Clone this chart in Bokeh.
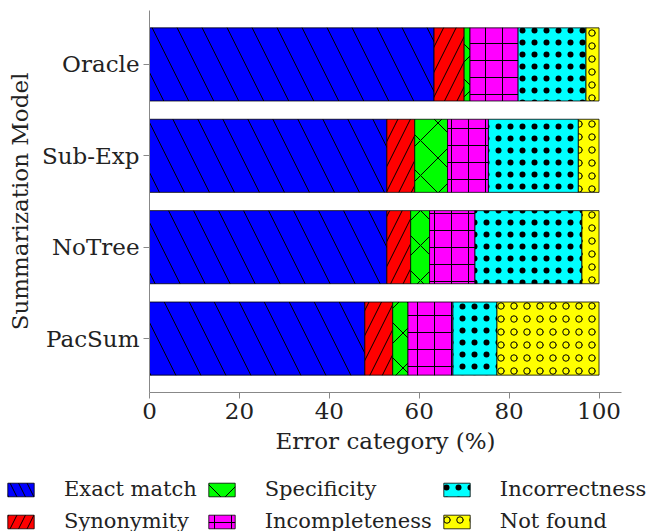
from bokeh.plotting import figure
from bokeh.layouts import column
from bokeh.models import ColumnDataSource, Range1d, FixedTicker, Legend, LegendItem
from bokeh.embed import file_html
from bokeh.resources import INLINE

models = ["Oracle", "Sub-Exp", "NoTree", "PacSum"]
categories = ["Exact match", "Synonymity", "Specificity", "Incompleteness", "Incorrectness", "Not found"]
exact_match = [63.3, 52.8, 52.8, 47.9]
synonymity = [6.7, 6.2, 5.3, 6.2]
specificity = [1.3, 7.3, 4.2, 3.4]
incompleteness = [10.7, 9.1, 10.1, 10.0]
incorrectness = [15.1, 20.0, 23.8, 9.8]
not_found = [2.9, 4.6, 3.8, 22.7]
x_ticks = [0, 20, 40, 60, 80, 100]

colors = ["#0000ff", "#ff0000", "#00ff00", "#ff00ff", "#00ffff", "#ffff00"]
hatches = ["\\", "/", "x", "+", ".", "o"]
scales = [50, 25, 35, 17, 12, 13]

FONT = "DejaVu Serif"

ypos = [len(models) - 1 - i for i in range(len(models))]
src = ColumnDataSource(dict(
    y=ypos,
    **{c: v for c, v in zip(categories, [exact_match, synonymity, specificity,
                                          incompleteness, incorrectness, not_found])}
))

p = figure(width=650, height=473, output_backend="svg", toolbar_location=None,
           x_range=Range1d(0, 105), y_range=Range1d(-0.59, 3.59),
           min_border_left=149, min_border_right=29, min_border_top=10,
           min_border_bottom=81)
p.outline_line_color = None
p.grid.visible = False
p.frame_align = False

renderers = p.hbar_stack(categories, y="y", height=0.8, source=src,
                         fill_color=colors, line_color="black", line_width=0.8,
                         hatch_pattern=hatches, hatch_scale=scales,
                         hatch_color="black", hatch_weight=1.0)

p.xaxis.ticker = FixedTicker(ticks=x_ticks)
p.yaxis.ticker = FixedTicker(ticks=ypos)
p.yaxis.major_label_overrides = {y: m for y, m in zip(ypos, models)}
p.xaxis.axis_label = "Error category (%)"
p.yaxis.axis_label = "Summarization Model"
for ax in (p.xaxis[0], p.yaxis[0]):
    ax.axis_label_text_font = FONT
    ax.axis_label_text_font_style = "normal"
    ax.axis_label_text_font_size = "23px"
    ax.axis_label_text_color = "#222222"
    ax.major_label_text_font = FONT
    ax.major_label_text_font_size = "23px"
    ax.major_label_text_color = "#222222"
    ax.axis_line_color = "#888888"
    ax.major_tick_line_color = "#888888"
    ax.major_tick_out = 6
    ax.major_tick_in = 0
    ax.minor_tick_line_color = None
    ax.major_label_standoff = 4
    ax.axis_label_standoff = 6

# legend figure: its swatch renderers sit outside the visible range, only the legend shows
lf = figure(width=650, height=58, output_backend="svg", toolbar_location=None,
            x_range=Range1d(0, 1), y_range=Range1d(0, 1),
            x_axis_location=None, y_axis_location=None,
            min_border_left=0, min_border_right=0, min_border_top=0, min_border_bottom=0)
lf.outline_line_color = None
lf.grid.visible = False
lf.frame_align = False
leg_src = ColumnDataSource(dict(y=[-10], left=[0], right=[1]))
leg_renderers = []
for c, col, hp, sc in zip(categories, colors, hatches, scales):
    r = lf.hbar(y="y", left="left", right="right", height=1, source=leg_src,
                fill_color=col, line_color="black", line_width=0.8,
                hatch_pattern=hp, hatch_scale=min(sc, 17) if hp in "\\/" else sc,
                hatch_color="black", hatch_weight=1.0)
    leg_renderers.append(r)

items = [LegendItem(label=c, renderers=[r]) for c, r in zip(categories, leg_renderers)]
legend = Legend(items=items, ncols=3, location="top_left",
                label_text_font=FONT, label_text_font_size="21px",
                label_text_color="#222222",
                glyph_width=33, glyph_height=17, label_standoff=27,
                spacing=8, padding=0, margin=4,
                border_line_alpha=0, background_fill_alpha=0)
lf.add_layout(legend, "center")

layout = column(p, lf, spacing=0)
open("out.html", "w").write(file_html(layout, INLINE))
